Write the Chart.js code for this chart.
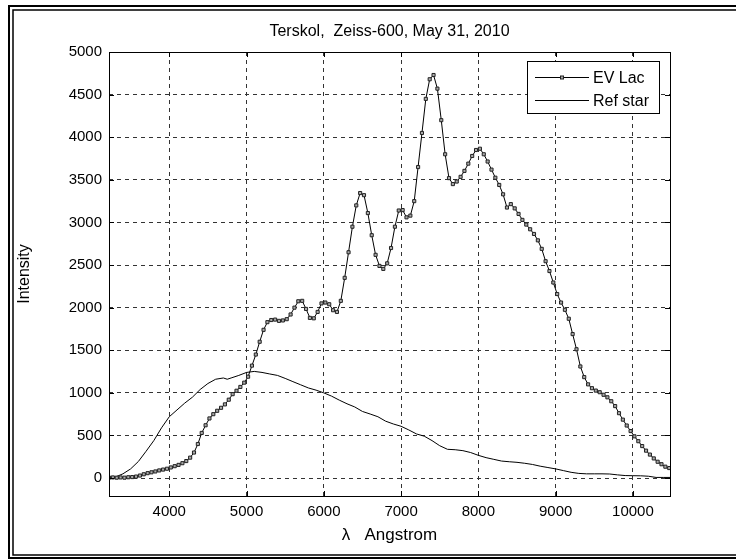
<!DOCTYPE html>
<html>
<head>
<meta charset="utf-8">
<title>EV Lac spectrum</title>
<script src="https://cdn.jsdelivr.net/npm/chart.js@4.4.1/dist/chart.umd.min.js"></script>
<style>
  html, body { margin: 0; padding: 0; background: #fff; }
  #wrap { width: 736px; height: 559px; }
</style>
</head>
<body>
<div id="wrap"><canvas id="spectrum" width="736" height="559"></canvas></div>
<script>
// chart texts
const chartTitle = 'Terskol,  Zeiss-600, May 31, 2010';
const xAxisTitle = 'λ   Angstrom';
const yAxisTitle = 'Intensity';
const seriesNames = ['EV Lac', 'Ref star'];

// tick labels
const xTickValues = [4000, 5000, 6000, 7000, 8000, 9000, 10000];
const yTickValues = [0, 500, 1000, 1500, 2000, 2500, 3000, 3500, 4000, 4500, 5000];

// EV Lac
const evLacWave = [
    3220, 3270, 3320, 3370, 3420, 3470, 3520, 3570, 3620, 3670,
    3720, 3770, 3820, 3870, 3920, 3970, 4020, 4070, 4120, 4170,
    4220, 4270, 4320, 4370, 4420, 4470, 4520, 4570, 4620, 4670,
    4720, 4770, 4820, 4870, 4920, 4970, 5020, 5070, 5120, 5170,
    5220, 5270, 5320, 5370, 5420, 5470, 5520, 5570, 5620, 5670,
    5720, 5770, 5820, 5870, 5920, 5970, 6020, 6070, 6120, 6170,
    6220, 6270, 6320, 6370, 6420, 6470, 6520, 6570, 6620, 6670,
    6720, 6770, 6820, 6870, 6920, 6970, 7020, 7070, 7120, 7170,
    7220, 7270, 7320, 7370, 7420, 7470, 7520, 7570, 7620, 7670,
    7720, 7770, 7820, 7870, 7920, 7970, 8020, 8070, 8120, 8170,
    8220, 8270, 8320, 8370, 8420, 8470, 8520, 8570, 8620, 8670,
    8720, 8770, 8820, 8870, 8920, 8970, 9020, 9070, 9120, 9170,
    9220, 9270, 9320, 9370, 9420, 9470, 9520, 9570, 9620, 9670,
    9720, 9770, 9820, 9870, 9920, 9970, 10020, 10070, 10120, 10170,
    10220, 10270, 10320, 10370, 10420, 10470
];
const evLacFlux = [
    5, 8, 5, 8, 5, 10, 12, 18, 30, 45,
    58, 68, 78, 90, 100, 110, 125, 140, 155, 175,
    200, 240, 300, 400, 530, 620, 700, 750, 790, 825,
    865, 920, 985, 1025, 1070, 1120, 1190, 1320, 1450, 1600,
    1740, 1830, 1855, 1860, 1845, 1850, 1865, 1920, 2000, 2075,
    2080, 1985, 1880, 1875, 1950, 2050, 2060, 2040, 1970, 1950,
    2080, 2350, 2650, 2950, 3200, 3345, 3320, 3110, 2850, 2620,
    2490, 2455, 2520, 2700, 2950, 3140, 3145, 3060, 3080, 3250,
    3650, 4050, 4450, 4680, 4730, 4570, 4200, 3800, 3520, 3450,
    3480, 3535, 3605, 3690, 3780, 3850, 3865, 3800, 3715, 3620,
    3525, 3440, 3330, 3175, 3215, 3165, 3100, 3030, 2975, 2920,
    2865, 2790, 2690, 2545, 2430, 2295, 2160, 2060, 1975, 1870,
    1690, 1512, 1310, 1185, 1100, 1055, 1027, 1008, 978, 948,
    902, 845, 762, 686, 617, 552, 490, 433, 376, 322,
    276, 231, 192, 163, 134, 118
];

// reference star
const refWave = [
    3220, 3300, 3400, 3500, 3600, 3700, 3800, 3900, 4000, 4100,
    4200, 4300, 4400, 4500, 4600, 4700, 4750, 4800, 4900, 5000,
    5100, 5200, 5300, 5400, 5500, 5600, 5700, 5800, 5900, 6000,
    6100, 6200, 6300, 6400, 6500, 6600, 6700, 6800, 6900, 7000,
    7100, 7200, 7300, 7400, 7500, 7600, 7700, 7800, 7900, 8000,
    8100, 8200, 8300, 8400, 8500, 8600, 8700, 8800, 8900, 9000,
    9100, 9200, 9300, 9400, 9500, 9600, 9700, 9800, 9900, 10000,
    10100, 10200, 10300, 10400, 10480
];
const refFlux = [
    0, 12, 50, 108, 195, 315, 440, 590, 720, 800,
    880, 950, 1040, 1110, 1160, 1175, 1160, 1175, 1205, 1240,
    1252, 1240, 1222, 1205, 1170, 1132, 1095, 1058, 1032, 1000,
    962, 915, 872, 835, 782, 752, 720, 668, 635, 608,
    565, 518, 492, 440, 380, 338, 333, 322, 300, 267,
    240, 220, 200, 192, 185, 174, 160, 140, 124, 108,
    88, 68, 55, 50, 50, 50, 48, 38, 30, 28,
    27, 22, 8, 8, 8
];

const FONT = '"Liberation Sans", Arial, Helvetica, sans-serif';

function toPoints(xs, ys) {
    return xs.map((x, i) => ({ x: x, y: ys[i] }));
}

// frame, box, inward ticks, title and legend drawn the MATLAB way
const matlabLook = {
    id: 'matlabLook',
    afterDraw(chart) {
        const { ctx, chartArea: a, scales } = chart;
        ctx.save();

        // axes box
        ctx.strokeStyle = '#000';
        ctx.lineWidth = 1;
        ctx.setLineDash([]);
        ctx.strokeRect(Math.round(a.left) + 0.5, Math.round(a.top) + 0.5,
            Math.round(a.right - a.left), Math.round(a.bottom - a.top));

        // inward tick marks
        ctx.beginPath();
        xTickValues.forEach((v) => {
            const px = Math.round(scales.x.getPixelForValue(v)) + 0.5;
            ctx.moveTo(px, a.bottom); ctx.lineTo(px, a.bottom - 5);
            ctx.moveTo(px, a.top); ctx.lineTo(px, a.top + 5);
        });
        yTickValues.forEach((v) => {
            const py = Math.round(scales.y.getPixelForValue(v)) + 0.5;
            ctx.moveTo(a.left, py); ctx.lineTo(a.left + 5, py);
            ctx.moveTo(a.right, py); ctx.lineTo(a.right - 5, py);
        });
        ctx.stroke();

        // title
        ctx.fillStyle = '#000';
        ctx.font = '16px ' + FONT;
        ctx.textAlign = 'center';
        ctx.textBaseline = 'middle';
        ctx.fillText(chartTitle, (a.left + a.right) / 2, 32);

        // legend
        const lx = 527.5, ly = 61.5, lw = 132, lh = 52;
        ctx.fillStyle = '#fff';
        ctx.fillRect(lx, ly, lw, lh);
        ctx.strokeRect(lx, ly, lw, lh);
        ctx.font = '16px ' + FONT;
        ctx.textAlign = 'left';
        chart.data.datasets.forEach((ds, i) => {
            const y = 77.5 + i * 23;
            ctx.strokeStyle = ds.borderColor;
            ctx.lineWidth = 1;
            ctx.beginPath();
            ctx.moveTo(535, y); ctx.lineTo(589, y);
            ctx.stroke();
            if (ds.pointRadius > 0) {
                ctx.fillStyle = ds.pointBackgroundColor;
                ctx.fillRect(560.5, y - 1.5, 3, 3);
                ctx.strokeStyle = ds.pointBorderColor;
                ctx.strokeRect(560.5, y - 1.5, 3, 3);
            }
            ctx.fillStyle = '#000';
            ctx.fillText(ds.label, 593, y + 1);
        });

        // double outer frame
        ctx.strokeStyle = '#000';
        ctx.lineWidth = 2;
        ctx.strokeRect(9, 6, 760, 552);
        ctx.lineWidth = 1.5;
        ctx.strokeRect(13, 10, 760, 545);

        ctx.restore();
    }
};

new Chart(document.getElementById('spectrum'), {
    type: 'line',
    data: {
        datasets: [
            {
                label: seriesNames[0],
                data: toPoints(evLacWave, evLacFlux),
                borderColor: '#000',
                borderWidth: 1,
                pointStyle: 'rect',
                pointRadius: 2.2,
                pointBorderWidth: 1,
                pointBorderColor: '#222',
                pointBackgroundColor: '#aaa',
                tension: 0
            },
            {
                label: seriesNames[1],
                data: toPoints(refWave, refFlux),
                borderColor: '#000',
                borderWidth: 1,
                pointRadius: 0,
                tension: 0
            }
        ]
    },
    options: {
        responsive: false,
        animation: false,
        devicePixelRatio: 1,
        layout: { padding: { left: 0, top: 52, right: 66, bottom: 0 } },
        plugins: {
            legend: { display: false },
            title: { display: false },
            tooltip: { enabled: false }
        },
        scales: {
            x: {
                type: 'linear',
                min: 3220,
                max: 10480,
                afterBuildTicks: (scale) => { scale.ticks = xTickValues.map((v) => ({ value: v })); },
                afterFit: (scale) => { scale.height = 63; },
                ticks: {
                    color: '#000',
                    padding: 7,
                    maxRotation: 0,
                    font: { family: FONT, size: 15 },
                    callback: (v) => String(v)
                },
                grid: { color: '#333', lineWidth: 1, drawTicks: false },
                border: { display: false, dash: [4, 4] },
                title: {
                    display: true,
                    text: xAxisTitle,
                    color: '#000',
                    font: { family: FONT, size: 17 },
                    padding: { top: 0, bottom: 13 }
                }
            },
            y: {
                min: -210,
                max: 5000,
                afterBuildTicks: (scale) => { scale.ticks = yTickValues.map((v) => ({ value: v })); },
                afterFit: (scale) => { scale.width = 109; },
                ticks: {
                    color: '#000',
                    padding: 7,
                    font: { family: FONT, size: 15 },
                    callback: (v) => String(v)
                },
                grid: { color: '#333', lineWidth: 1, drawTicks: false },
                border: { display: false, dash: [4, 4] },
                title: {
                    display: true,
                    text: yAxisTitle,
                    color: '#000',
                    font: { family: FONT, size: 16 },
                    padding: { top: 15, bottom: 0 }
                }
            }
        }
    },
    plugins: [matlabLook]
});
</script>
</body>
</html>
